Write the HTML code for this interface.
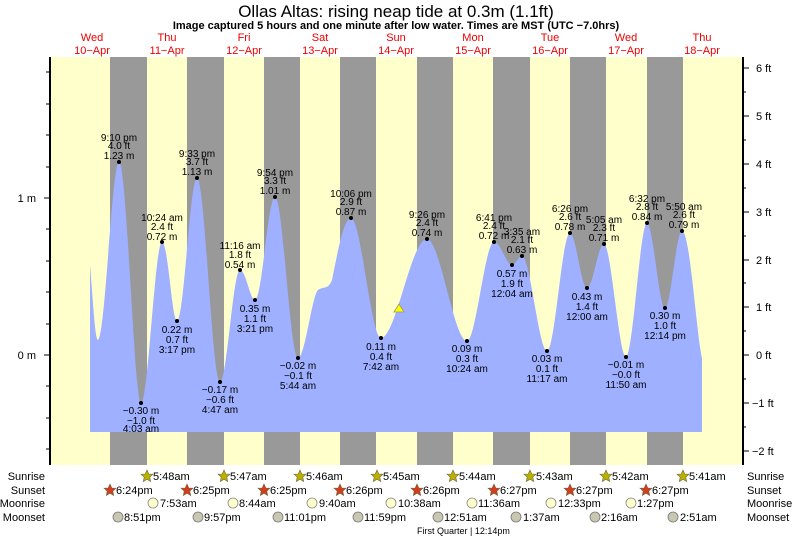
<!DOCTYPE html>
<html><head><meta charset="utf-8"><style>
body{margin:0;background:#fff;}
svg{display:block;font-family:"Liberation Sans",sans-serif;}
.t{font-size:10px;fill:#000;text-anchor:middle;}
.d{font-size:11px;fill:#e00;text-anchor:middle;}
.r{font-size:11px;fill:#000;}
</style></head><body>
<svg width="793" height="539" viewBox="0 0 793 539" xmlns="http://www.w3.org/2000/svg">
<rect x="50" y="57" width="693" height="408" fill="#ffffcc"/>
<g fill="#999">
<rect x="110" y="57" width="37" height="408"/><rect x="187" y="57" width="37" height="408"/>
<rect x="264" y="57" width="36" height="408"/><rect x="340" y="57" width="36" height="408"/>
<rect x="417" y="57" width="36" height="408"/><rect x="493" y="57" width="37" height="408"/>
<rect x="570" y="57" width="36" height="408"/><rect x="647" y="57" width="36" height="408"/>
</g>
<path fill="#9eb0ff" d="M90,432 L90,265 C93,300 95,340 98,340 C105,340 112,162 119,162 C127,162 134,403 141,403 C148,403 155,242 162,242 C168,242 172,321 177,321 C184,321 190,178 197,178 C205,178 212,382 220,382 C227,382 233,270 240,270 C246,270 250,300 255,300 C262,300 268,197 275,197 C283,197 290,358 298,358 C305,358 312,295 318,290 C324,286 328,290 332,280 C338,250 344,218 351,218 C361,218 371,338 381,338 C396,338 411,239 427,239 C440,239 454,341 467,341 C476,341 485,242 494,242 C501,242 506,265 512,265 C516,265 518,256 522,256 C530,256 539,351 547,351 C555,351 562,233 570,233 C576,233 581,288 587,288 C593,288 598,244 604,244 C611,244 619,357 626,357 C633,357 640,223 647,223 C653,223 659,308 665,308 C671,308 676,231 682,231 C690,231 696,330 702,358 L702,432 Z"/>
<g fill="#000">
<circle cx="119" cy="162" r="2"/><circle cx="141" cy="403" r="2"/><circle cx="162" cy="242" r="2"/><circle cx="177" cy="321" r="2"/><circle cx="197" cy="178" r="2"/><circle cx="220" cy="382" r="2"/><circle cx="240" cy="270" r="2"/><circle cx="255" cy="300" r="2"/><circle cx="275" cy="197" r="2"/><circle cx="298" cy="358" r="2"/><circle cx="351" cy="218" r="2"/><circle cx="381" cy="338" r="2"/><circle cx="427" cy="239" r="2"/><circle cx="467" cy="341" r="2"/><circle cx="494" cy="242" r="2"/><circle cx="512" cy="265" r="2"/><circle cx="522" cy="256" r="2"/><circle cx="547" cy="351" r="2"/><circle cx="570" cy="233" r="2"/><circle cx="587" cy="288" r="2"/><circle cx="604" cy="244" r="2"/><circle cx="626" cy="357" r="2"/><circle cx="647" cy="223" r="2"/><circle cx="665" cy="308" r="2"/><circle cx="682" cy="231" r="2"/>
</g>
<polygon points="399,304 404,312 394,312" fill="#ff0" stroke="#996" stroke-width="0.8"/>
<g class="t">
<text x="119" y="141">9:10 pm</text><text x="119" y="149">4.0 ft</text><text x="119" y="159">1.23 m</text>
<text x="141" y="414">−0.30 m</text><text x="141" y="424">−1.0 ft</text><text x="141" y="432">4:03 am</text>
<text x="162" y="221">10:24 am</text><text x="162" y="230">2.4 ft</text><text x="162" y="240">0.72 m</text>
<text x="177" y="333">0.22 m</text><text x="177" y="343">0.7 ft</text><text x="177" y="353">3:17 pm</text>
<text x="197" y="157">9:33 pm</text><text x="197" y="165">3.7 ft</text><text x="197" y="175">1.13 m</text>
<text x="220" y="393">−0.17 m</text><text x="220" y="403">−0.6 ft</text><text x="220" y="413">4:47 am</text>
<text x="240" y="249">11:16 am</text><text x="240" y="258">1.8 ft</text><text x="240" y="268">0.54 m</text>
<text x="255" y="312">0.35 m</text><text x="255" y="322">1.1 ft</text><text x="255" y="332">3:21 pm</text>
<text x="275" y="176">9:54 pm</text><text x="275" y="184">3.3 ft</text><text x="275" y="194">1.01 m</text>
<text x="298" y="369">−0.02 m</text><text x="298" y="379">−0.1 ft</text><text x="298" y="389">5:44 am</text>
<text x="351" y="197">10:06 pm</text><text x="351" y="205">2.9 ft</text><text x="351" y="215">0.87 m</text>
<text x="381" y="350">0.11 m</text><text x="381" y="360">0.4 ft</text><text x="381" y="370">7:42 am</text>
<text x="427" y="218">9:26 pm</text><text x="427" y="226">2.4 ft</text><text x="427" y="236">0.74 m</text>
<text x="467" y="352">0.09 m</text><text x="467" y="362">0.3 ft</text><text x="467" y="372">10:24 am</text>
<text x="494" y="221">6:41 pm</text><text x="494" y="229">2.4 ft</text><text x="494" y="239">0.72 m</text>
<text x="512" y="277">0.57 m</text><text x="512" y="287">1.9 ft</text><text x="512" y="297">12:04 am</text>
<text x="522" y="235">3:35 am</text><text x="522" y="243">2.1 ft</text><text x="522" y="253">0.63 m</text>
<text x="547" y="362">0.03 m</text><text x="547" y="372">0.1 ft</text><text x="547" y="382">11:17 am</text>
<text x="570" y="212">6:26 pm</text><text x="570" y="220">2.6 ft</text><text x="570" y="230">0.78 m</text>
<text x="587" y="300">0.43 m</text><text x="587" y="310">1.4 ft</text><text x="587" y="320">12:00 am</text>
<text x="604" y="223">5:05 am</text><text x="604" y="231">2.3 ft</text><text x="604" y="241">0.71 m</text>
<text x="626" y="368">−0.01 m</text><text x="626" y="378">−0.0 ft</text><text x="626" y="388">11:50 am</text>
<text x="647" y="202">6:32 pm</text><text x="647" y="210">2.8 ft</text><text x="647" y="220">0.84 m</text>
<text x="665" y="319">0.30 m</text><text x="665" y="329">1.0 ft</text><text x="665" y="339">12:14 pm</text>
<text x="684" y="210">5:50 am</text><text x="684" y="218">2.6 ft</text><text x="684" y="228">0.79 m</text>
</g>
<line x1="50" y1="57" x2="50" y2="465" stroke="#000" stroke-width="2"/>
<line x1="743" y1="57" x2="743" y2="465" stroke="#000" stroke-width="2"/>
<g stroke="#000" stroke-width="1">
<line x1="44" y1="198" x2="50" y2="198"/><line x1="44" y1="355" x2="50" y2="355"/>
<line x1="46" y1="72" x2="50" y2="72"/><line x1="46" y1="104" x2="50" y2="104"/><line x1="46" y1="135" x2="50" y2="135"/><line x1="46" y1="167" x2="50" y2="167"/><line x1="46" y1="229" x2="50" y2="229"/><line x1="46" y1="261" x2="50" y2="261"/><line x1="46" y1="292" x2="50" y2="292"/><line x1="46" y1="324" x2="50" y2="324"/><line x1="46" y1="386" x2="50" y2="386"/><line x1="46" y1="418" x2="50" y2="418"/><line x1="46" y1="449" x2="50" y2="449"/>
<line x1="743" y1="68" x2="749" y2="68"/><line x1="743" y1="116" x2="749" y2="116"/><line x1="743" y1="164" x2="749" y2="164"/><line x1="743" y1="212" x2="749" y2="212"/><line x1="743" y1="260" x2="749" y2="260"/><line x1="743" y1="307" x2="749" y2="307"/><line x1="743" y1="355" x2="749" y2="355"/><line x1="743" y1="403" x2="749" y2="403"/><line x1="743" y1="451" x2="749" y2="451"/>
<line x1="743" y1="92" x2="746" y2="92"/><line x1="743" y1="140" x2="746" y2="140"/><line x1="743" y1="188" x2="746" y2="188"/><line x1="743" y1="236" x2="746" y2="236"/><line x1="743" y1="283" x2="746" y2="283"/><line x1="743" y1="331" x2="746" y2="331"/><line x1="743" y1="379" x2="746" y2="379"/><line x1="743" y1="427" x2="746" y2="427"/>
</g>
<g class="r" text-anchor="end"><text x="36" y="202">1 m</text><text x="36" y="359">0 m</text></g>
<g class="r"><text x="756" y="72">6 ft</text><text x="756" y="120">5 ft</text><text x="756" y="168">4 ft</text><text x="756" y="216">3 ft</text><text x="756" y="264">2 ft</text><text x="756" y="311">1 ft</text><text x="756" y="359">0 ft</text><text x="752" y="407">−1 ft</text><text x="752" y="455">−2 ft</text></g>
<text x="396" y="17" font-size="17" text-anchor="middle">Ollas Altas: rising  neap tide at 0.3m (1.1ft)</text>
<text x="396" y="29" font-size="11" font-weight="bold" text-anchor="middle">Image captured 5 hours and one minute after low water. Times are MST (UTC −7.0hrs)</text>
<g class="d">
<text x="92" y="41">Wed</text><text x="92" y="54">10−Apr</text>
<text x="167" y="41">Thu</text><text x="167" y="54">11−Apr</text>
<text x="244" y="41">Fri</text><text x="244" y="54">12−Apr</text>
<text x="320" y="41">Sat</text><text x="320" y="54">13−Apr</text>
<text x="396" y="41">Sun</text><text x="396" y="54">14−Apr</text>
<text x="473" y="41">Mon</text><text x="473" y="54">15−Apr</text>
<text x="550" y="41">Tue</text><text x="550" y="54">16−Apr</text>
<text x="626" y="41">Wed</text><text x="626" y="54">17−Apr</text>
<text x="702" y="41">Thu</text><text x="702" y="54">18−Apr</text>
</g>
<g class="r" text-anchor="end"><text x="45" y="480">Sunrise</text><text x="45" y="494">Sunset</text><text x="45" y="507">Moonrise</text><text x="45" y="521">Moonset</text></g>
<g class="r"><text x="747" y="480">Sunrise</text><text x="747" y="494">Sunset</text><text x="747" y="507">Moonrise</text><text x="747" y="521">Moonset</text></g>
<defs>
<polygon id="st" points="0,-6 1.8,-2 6,-1.8 2.8,1.2 3.7,5.5 0,3.2 -3.7,5.5 -2.8,1.2 -6,-1.8 -1.8,-2" stroke="#664" stroke-width="0.6"/>
</defs>
<g fill="#bbb000">
<use href="#st" x="147" y="476"/><use href="#st" x="224" y="476"/><use href="#st" x="300" y="476"/><use href="#st" x="377" y="476"/><use href="#st" x="453" y="476"/><use href="#st" x="530" y="476"/><use href="#st" x="606" y="476"/><use href="#st" x="683" y="476"/>
</g>
<g fill="#d43c1c">
<use href="#st" x="110" y="490"/><use href="#st" x="187" y="490"/><use href="#st" x="264" y="490"/><use href="#st" x="340" y="490"/><use href="#st" x="417" y="490"/><use href="#st" x="494" y="490"/><use href="#st" x="570" y="490"/><use href="#st" x="646" y="490"/>
</g>
<g class="r" font-size="11">
<text x="153" y="480">5:48am</text><text x="230" y="480">5:47am</text><text x="306" y="480">5:46am</text><text x="383" y="480">5:45am</text><text x="459" y="480">5:44am</text><text x="536" y="480">5:43am</text><text x="612" y="480">5:42am</text><text x="689" y="480">5:41am</text>
<text x="116" y="494">6:24pm</text><text x="193" y="494">6:25pm</text><text x="270" y="494">6:25pm</text><text x="346" y="494">6:26pm</text><text x="423" y="494">6:26pm</text><text x="500" y="494">6:27pm</text><text x="576" y="494">6:27pm</text><text x="652" y="494">6:27pm</text>
<text x="160" y="507">7:53am</text><text x="239" y="507">8:44am</text><text x="319" y="507">9:40am</text><text x="398" y="507">10:38am</text><text x="478" y="507">11:36am</text><text x="558" y="507">12:33pm</text><text x="637" y="507">1:27pm</text>
<text x="124" y="521">8:51pm</text><text x="204" y="521">9:57pm</text><text x="284" y="521">11:01pm</text><text x="364" y="521">11:59pm</text><text x="444" y="521">12:51am</text><text x="523" y="521">1:37am</text><text x="601" y="521">2:16am</text><text x="680" y="521">2:51am</text>
</g>
<g fill="#ffffcc" stroke="#888" stroke-width="0.8">
<circle cx="153" cy="503" r="5"/><circle cx="233" cy="503" r="5"/><circle cx="312" cy="503" r="5"/><circle cx="391" cy="503" r="5"/><circle cx="472" cy="503" r="5"/><circle cx="551" cy="503" r="5"/><circle cx="631" cy="503" r="5"/>
</g>
<g fill="#c8c8b0" stroke="#777" stroke-width="0.8">
<circle cx="118" cy="517" r="5"/><circle cx="198" cy="517" r="5"/><circle cx="278" cy="517" r="5"/><circle cx="358" cy="517" r="5"/><circle cx="438" cy="517" r="5"/><circle cx="516" cy="517" r="5"/><circle cx="595" cy="517" r="5"/><circle cx="673" cy="517" r="5"/>
</g>
<text x="417" y="534" font-size="9" fill="#000">First Quarter | 12:14pm</text>
</svg>
</body></html>
